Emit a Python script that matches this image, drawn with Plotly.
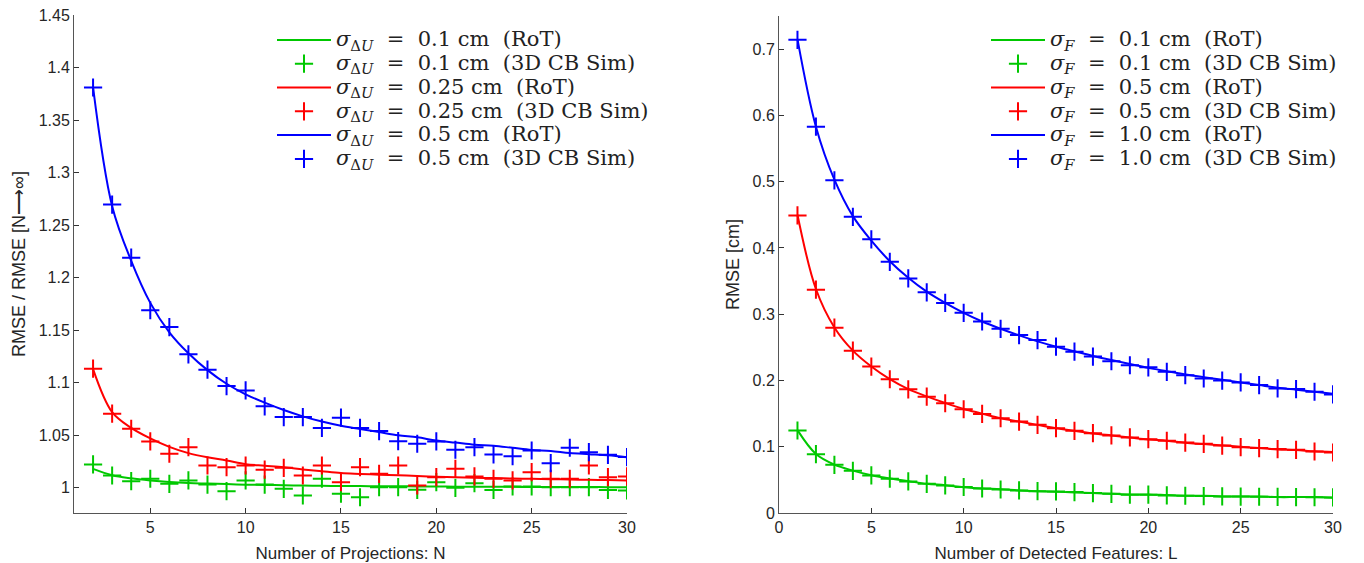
import plotly.graph_objects as go

# ---------------- Left panel data (N = 2..30) ----------------
N = list(range(2, 31))
left_green_rot = [1.018, 1.012, 1.009, 1.007, 1.0055, 1.0045, 1.004, 1.0035, 1.003, 1.0027,
                  1.0024, 1.0021, 1.0019, 1.0017, 1.0016, 1.0015, 1.0014, 1.0013, 1.0012, 1.0011,
                  1.0010, 1.0009, 1.0009, 1.0008, 1.0008, 1.0007, 1.0007, 1.0006, 1.0006]
left_green_sim = [1.0222, 1.0117, 1.0063, 1.0086, 1.0038, 1.007, 1.0031, 0.9968, 1.007, 1.0031,
                  0.999, 0.9927, 1.0086, 0.9943, 0.991, 1.0006, 1.0006, 0.9981, 1.0053, 1.0,
                  1.0044, 0.998, 1.0012, 1.0012, 1.0006, 1.0006, 1.0006, 0.998, 0.9974]
left_red_rot = [1.113, 1.072, 1.057, 1.047, 1.039, 1.033, 1.029, 1.026, 1.0225, 1.021,
                1.0195, 1.0175, 1.0157, 1.014, 1.0132, 1.0125, 1.012, 1.0113, 1.0105, 1.010,
                1.0096, 1.0092, 1.0088, 1.0085, 1.0082, 1.0079, 1.0076, 1.0073, 1.007]
left_red_sim = [1.1134, 1.0705, 1.0562, 1.0441, 1.0324, 1.0387, 1.0212, 1.0196, 1.0212, 1.0172,
                1.019, 1.0117, 1.0212, 1.0053, 1.0196, 1.0133, 1.0212, 1.0022, 1.0101, 1.0181,
                1.0108, 1.0086, 1.007, 1.0149, 1.0086, 1.0086, 1.0212, 1.0101, 1.0108]
left_blue_rot = [1.381, 1.268, 1.216, 1.176, 1.148, 1.128, 1.112, 1.099, 1.089, 1.081,
                 1.074, 1.068, 1.063, 1.059, 1.056, 1.053, 1.050, 1.048, 1.045, 1.043,
                 1.041, 1.040, 1.038, 1.036, 1.035, 1.033, 1.032, 1.031, 1.029]
left_blue_sim = [1.381, 1.2696, 1.219, 1.169, 1.153, 1.127, 1.1124, 1.0968, 1.0927, 1.0775,
                 1.0673, 1.0673, 1.057, 1.0667, 1.057, 1.054, 1.0444, 1.0419, 1.0441, 1.0362,
                 1.0387, 1.0317, 1.0301, 1.0355, 1.0234, 1.0381, 1.0339, 1.0314, 1.0292]
left_labels = ["0.1", "0.25", "0.5"]

# ---------------- Right panel data (L = 1..30) ----------------
L = list(range(1, 31))
right_green_rot = [0.125, 0.089, 0.073, 0.064, 0.057, 0.052, 0.048, 0.044, 0.042, 0.039,
                   0.037, 0.036, 0.034, 0.033, 0.032, 0.031, 0.030, 0.029, 0.028, 0.028,
                   0.027, 0.026, 0.026, 0.025, 0.025, 0.025, 0.024, 0.024, 0.024, 0.023]
right_green_sim = [0.1245, 0.0888, 0.0727, 0.0637, 0.0567, 0.0517, 0.0476, 0.0441, 0.0416, 0.0392,
                   0.037, 0.0355, 0.034, 0.033, 0.0326, 0.0316, 0.030, 0.029, 0.0276, 0.0276,
                   0.0265, 0.026, 0.0255, 0.025, 0.0248, 0.0245, 0.0242, 0.024, 0.0238, 0.0235]
right_red_rot = [0.450, 0.338, 0.280, 0.245, 0.221, 0.202, 0.187, 0.176, 0.166, 0.157,
                 0.150, 0.143, 0.138, 0.133, 0.128, 0.124, 0.120, 0.117, 0.114, 0.111,
                 0.109, 0.106, 0.104, 0.102, 0.100, 0.098, 0.096, 0.095, 0.093, 0.092]
right_red_sim = [0.449, 0.337, 0.2796, 0.245, 0.221, 0.2018, 0.1867, 0.1756, 0.1656, 0.1566,
                 0.1495, 0.143, 0.138, 0.133, 0.128, 0.124, 0.1205, 0.117, 0.114, 0.1114,
                 0.109, 0.1063, 0.1044, 0.1018, 0.0994, 0.098, 0.0964, 0.0953, 0.0928, 0.0913]
right_blue_rot = [0.715, 0.583, 0.503, 0.448, 0.411, 0.380, 0.355, 0.334, 0.317, 0.302,
                  0.289, 0.278, 0.268, 0.259, 0.251, 0.244, 0.237, 0.231, 0.225, 0.219,
                  0.214, 0.209, 0.205, 0.201, 0.197, 0.193, 0.189, 0.186, 0.183, 0.180]
right_blue_sim = [0.714, 0.583, 0.502, 0.447, 0.413, 0.379, 0.354, 0.333, 0.317, 0.302,
                  0.289, 0.278, 0.2685, 0.261, 0.251, 0.2434, 0.236, 0.229, 0.223, 0.2198,
                  0.213, 0.208, 0.203, 0.1998, 0.197, 0.193, 0.188, 0.187, 0.183, 0.179]
right_labels = ["0.1", "0.5", "1.0"]

left_yticks = [1, 1.05, 1.1, 1.15, 1.2, 1.25, 1.3, 1.35, 1.4, 1.45]
left_yticktext = ["1", "1.05", "1.1", "1.15", "1.2", "1.25", "1.3", "1.35", "1.4", "1.45"]
left_xticks = [5, 10, 15, 20, 25, 30]
right_yticks = [0, 0.1, 0.2, 0.3, 0.4, 0.5, 0.6, 0.7]
right_yticktext = ["0", "0.1", "0.2", "0.3", "0.4", "0.5", "0.6", "0.7"]
right_xticks = [0, 5, 10, 15, 20, 25, 30]

colors = ["rgb(0,200,0)", "rgb(255,0,0)", "rgb(0,0,255)"]

W, H = 1364, 563
fig = go.Figure()

SP = "&nbsp;"


def entry(sym, val, kind):
    return ('<span style="font-size:21px">' + sym + SP + " = " + SP + val + " cm" + SP + " (" + kind + ")</span>")


SYM_L = "<i>σ</i><sub>Δ<i>U</i></sub>"
SYM_R = "<i>σ</i><sub><i>F</i></sub>"

left_sets = [(left_green_rot, left_green_sim), (left_red_rot, left_red_sim), (left_blue_rot, left_blue_sim)]
right_sets = [(right_green_rot, right_green_sim), (right_red_rot, right_red_sim), (right_blue_rot, right_blue_sim)]

for i, (rot, sim) in enumerate(left_sets):
    fig.add_trace(go.Scatter(x=N, y=rot, mode="lines", line=dict(color=colors[i], width=2, shape="spline"),
                             name=entry(SYM_L, left_labels[i], "RoT"), legend="legend",
                             xaxis="x", yaxis="y"))
    fig.add_trace(go.Scatter(x=N, y=sim, mode="markers",
                             marker=dict(symbol="cross-thin", size=13, line=dict(color=colors[i], width=2)),
                             name=entry(SYM_L, left_labels[i], "3D CB Sim"), legend="legend",
                             xaxis="x", yaxis="y"))

for i, (rot, sim) in enumerate(right_sets):
    fig.add_trace(go.Scatter(x=L, y=rot, mode="lines", line=dict(color=colors[i], width=2, shape="spline"),
                             name=entry(SYM_R, right_labels[i], "RoT"), legend="legend2",
                             xaxis="x2", yaxis="y2"))
    fig.add_trace(go.Scatter(x=L, y=sim, mode="markers",
                             marker=dict(symbol="cross-thin", size=13, line=dict(color=colors[i], width=2)),
                             name=entry(SYM_R, right_labels[i], "3D CB Sim"), legend="legend2",
                             xaxis="x2", yaxis="y2"))

tickfont = dict(family="Liberation Sans, Arial", size=16, color="#262626")
xtitlefont = dict(family="Liberation Sans, Arial", size=17, color="#262626")
ytitlefont = dict(family="Liberation Sans, Arial", size=18, color="#262626")
axis_common = dict(showline=True, linecolor="#555555", linewidth=1, ticks="inside", ticklen=5,
                   tickcolor="#333333", showgrid=False, zeroline=False, tickfont=tickfont, mirror=False,
                   automargin=False)

legend_common = dict(bgcolor="rgba(0,0,0,0)", borderwidth=0,
                     font=dict(family="DejaVu Serif, Liberation Serif", size=16, color="#222222"),
                     tracegroupgap=0, itemwidth=54, xanchor="left", yanchor="top", traceorder="normal")

fig.update_layout(
    width=W, height=H,
    paper_bgcolor="white", plot_bgcolor="white",
    margin=dict(l=0, r=0, t=0, b=0, autoexpand=False),
    showlegend=True,
    xaxis=dict(domain=[74 / W, 627 / W], range=[1, 30], tickvals=left_xticks, anchor="y",
               title=dict(text="Number of Projections: N", font=xtitlefont, standoff=11), **axis_common),
    yaxis=dict(domain=[1 - 513 / H, 1 - 15 / H], range=[0.976, 1.45], tickvals=left_yticks,
               ticktext=left_yticktext, anchor="x",
               title=dict(text="RMSE / RMSE [N⟶∞]", font=ytitlefont, standoff=8), **axis_common),
    xaxis2=dict(domain=[779 / W, 1333 / W], range=[0, 30], tickvals=right_xticks, anchor="y2",
                title=dict(text="Number of Detected Features: L", font=xtitlefont, standoff=11), **axis_common),
    yaxis2=dict(domain=[1 - 513 / H, 1 - 16 / H], range=[0, 0.75], tickvals=right_yticks,
                ticktext=right_yticktext, anchor="x2",
                title=dict(text="RMSE [cm]", font=ytitlefont, standoff=8), **axis_common),
    legend=dict(x=272 / W, y=1 - 23 / H, **legend_common),
    legend2=dict(x=986 / W, y=1 - 23 / H, **legend_common),
)

fig.write_html("out.html", config={"displayModeBar": False},
               post_script="document.body.style.margin='0';document.body.style.overflow='hidden';")
